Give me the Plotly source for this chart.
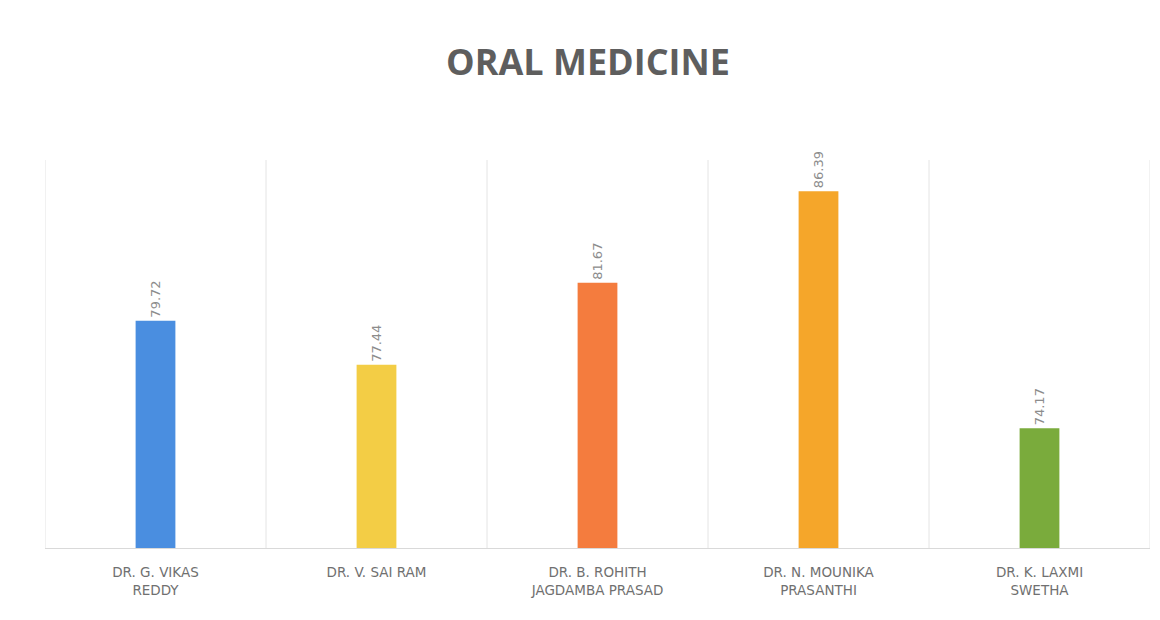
import plotly.graph_objects as go

doctors = [
    "DR. G. VIKAS<br>REDDY",
    "DR. V. SAI RAM",
    "DR. B. ROHITH<br>JAGDAMBA PRASAD",
    "DR. N. MOUNIKA<br>PRASANTHI",
    "DR. K. LAXMI<br>SWETHA",
]
scores = [79.72, 77.44, 81.67, 86.39, 74.17]
bar_colors = ["#4a8ee0", "#f3cd45", "#f47c3e", "#f5a62a", "#7aab3c"]

fig = go.Figure()
fig.add_trace(
    go.Bar(
        x=list(range(len(doctors))),
        y=scores,
        marker=dict(color=bar_colors, line=dict(width=0)),
        text=[f"{v:.2f}" for v in scores],
        textposition="outside",
        textangle=-90,
        textfont=dict(size=13, color="#8c8c8c", family="DejaVu Sans"),
        cliponaxis=False,
        showlegend=False,
    )
)

# category separators (vertical gridlines)
for i in range(len(doctors) + 1):
    fig.add_shape(
        type="line", xref="x", yref="paper",
        x0=i - 0.5, x1=i - 0.5, y0=0, y1=1,
        line=dict(color="#e4e4e4", width=1),
    )

fig.update_layout(
    width=1160, height=620,
    paper_bgcolor="white", plot_bgcolor="white",
    margin=dict(l=37, r=18, t=152, b=80),
    bargap=0.82,
    title=dict(
        text="<b>ORAL MEDICINE</b>",
        x=0.5, xanchor="center",
        y=1 - 54 / 620, yref="container", yanchor="middle",
        font=dict(size=36, color="#5e5e5e", family="Open Sans"),
    ),
    xaxis=dict(
        tickmode="array",
        tickvals=list(range(len(doctors))),
        ticktext=doctors,
        range=[-0.5, len(doctors) - 0.5],
        showgrid=False,
        showline=True, linecolor="#d9d9d9", linewidth=1,
        ticks="",
        ticklabelstandoff=12,
        tickfont=dict(size=13.5, color="#707070", family="DejaVu Sans"),
    ),
    yaxis=dict(
        range=[68, 88],
        showgrid=False, zeroline=False,
        showticklabels=False, showline=False,
    ),
)

fig.write_html("out.html")
